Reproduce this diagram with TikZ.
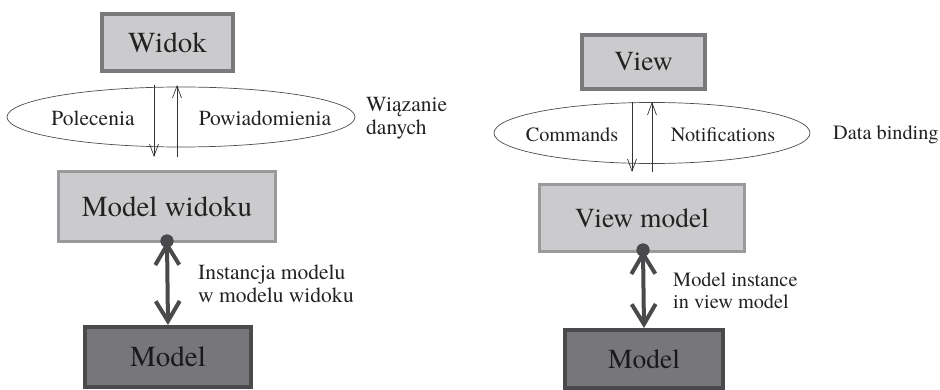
\documentclass[tikz,border=0pt]{standalone}
\usepackage{fontspec}
\setmainfont{texgyretermes}[Extension=.otf, UprightFont=*-regular, BoldFont=*-bold, ItalicFont=*-italic, BoldItalicFont=*-bolditalic]
\usetikzlibrary{arrows.meta,shapes.geometric,calc}
\definecolor{boxfill}{HTML}{CBCBCD}
\definecolor{boxedge}{HTML}{7A7A7C}
\definecolor{boxedgelight}{HTML}{9A9A9C}
\definecolor{modfill}{HTML}{77777B}
\definecolor{modedge}{HTML}{4A4A4C}
\definecolor{darkline}{HTML}{4A4A4C}
\definecolor{txt}{HTML}{222222}
\tikzset{
  box/.style={rectangle, fill=boxfill, draw=boxedge, line width=4pt, text=txt, inner sep=0pt},
  vmbox/.style={rectangle, fill=boxfill, draw=boxedgelight, line width=3pt, text=txt, inner sep=0pt},
  modbox/.style={rectangle, fill=modfill, draw=modedge, line width=4pt, text=black!90, inner sep=0pt},
  oval/.style={ellipse, draw=black!70, line width=0.7pt, inner sep=0pt},
  lbl/.style={text=txt, inner sep=0pt},
  bigL/.style={font=\fontsize{29}{32}\selectfont},
  bigR/.style={font=\fontsize{27.5}{30}\selectfont},
  smL/.style={font=\fontsize{21.5}{23}\selectfont},
  smR/.style={font=\fontsize{20.3}{21.7}\selectfont},
  thinarrow/.style={-{Straight Barb[length=12pt,width=9pt]}, line width=0.7pt, draw=black!80},
  thickarrow/.style={{Straight Barb[length=20pt,width=24pt]}-{Straight Barb[length=20pt,width=24pt]}, line width=4pt, draw=darkline},
  dotst/.style={circle, fill=darkline, inner sep=0pt, minimum size=13pt},
}
\begin{document}
\begin{tikzpicture}[x=1pt,y=-1pt]
\useasboundingbox (0,0) rectangle (940,390);
% ---------------- left ----------------
\node[oval, minimum width=348pt, minimum height=60pt] (ovL) at (181,117) {};
\node[box, bigL, minimum width=131pt, minimum height=57pt] (widok) at (167.5,42.5) {Widok};
\node[vmbox, bigL, minimum width=217pt, minimum height=70pt] (mw) at (167,206.5) {Model widoku};
\node[modbox, bigL, minimum width=166pt, minimum height=60pt] (modL) at (168,357) {Model};
\node[lbl, smL] (polecenia) at (93,118) {Polecenia};
\node[lbl, smL] (powiad) at (265,118) {Powiadomienia};
\node[lbl, smL, anchor=west, align=left] (wiaz) at (366,118) {Wiązanie\\danych};
\coordinate (dL) at (154,0);
\coordinate (uL) at (177,0);
\draw[thinarrow, shorten <=12pt, shorten >=13pt] (widok.south -| dL) -- (mw.north -| dL);
\draw[thinarrow, shorten <=13pt, shorten >=12pt] (mw.north -| uL) -- (widok.south -| uL);
\node[dotst] (dotL) at (167,241) {};
\draw[thickarrow] (dotL.center) -- (modL.north);
\node[dotst] at (dotL) {};
\node[lbl, smL, anchor=west, align=left] (instL) at (198,283.5) {Instancja modelu\\w modelu widoku};
% ---------------- right ----------------
\node[oval, minimum width=316pt, minimum height=61pt] (ovR) at (652,133) {};
\node[box, bigR, minimum width=123pt, minimum height=54pt] (view) at (643.5,62) {View};
\node[vmbox, bigR, minimum width=205pt, minimum height=67pt] (vm) at (642,218) {View model};
\node[modbox, bigR, minimum width=158pt, minimum height=58pt] (modR) at (644,359) {Model};
\node[lbl, smR] (commands) at (572,135) {Commands};
\node[lbl, smR] (notif) at (723,135) {Notifications};
\node[lbl, smR, anchor=west] (datab) at (833,135) {Data binding};
\coordinate (dR) at (632,0);
\coordinate (uR) at (652,0);
\draw[thinarrow, shorten <=11pt, shorten >=11pt] (view.south -| dR) -- (vm.north -| dR);
\draw[thinarrow, shorten <=11pt, shorten >=11pt] (vm.north -| uR) -- (view.south -| uR);
\node[dotst] (dotR) at (643,250) {};
\draw[thickarrow] (dotR.center) -- (modR.north);
\node[dotst] at (dotR) {};
\node[lbl, smR, anchor=west, align=left] (instR) at (673,291) {Model instance\\in view model};
\end{tikzpicture}
\end{document}
